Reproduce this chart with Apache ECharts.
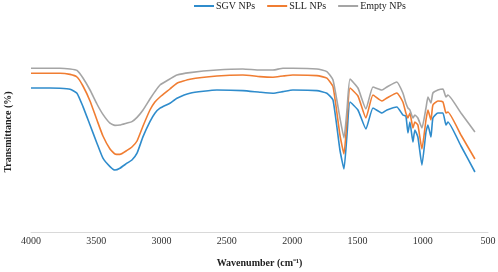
<!DOCTYPE html>
<html>
<head>
<meta charset="utf-8">
<script src="https://cdn.jsdelivr.net/npm/echarts@6/dist/echarts.min.js"></script>
<style>
  html, body { margin: 0; padding: 0; background: #fff; }
  #chart { width: 498px; height: 272px; }
</style>
</head>
<body>
<div id="chart"></div>
<script>
// wavenumber points (cm-1), shared by all three spectra
const wavenumbers = [4000, 3855, 3778, 3701, 3648, 3602, 3548, 3495, 3449, 3395, 3357, 3319, 3265, 3227, 3188, 3142, 3089, 3051, 3012, 2936, 2882, 2783, 2576, 2377, 2247, 2147, 2070, 1994, 1810, 1734, 1687,
  1634, 1603, 1580, 1557, 1496, 1435, 1381, 1312, 1274, 1198, 1152, 1129, 1113, 1098, 1075, 1060, 1037, 1006, 975, 960, 937, 922, 884, 845, 822, 807, 707, 600];

const sgv = [72, 72, 71.9, 71.4, 69.4, 62.7, 53.5, 44.4, 36.9, 32.7, 31, 31.9, 34.4, 36, 39.4, 47.7, 55.2, 59.4, 61.9, 64.4, 66.9, 69.4, 71, 70.7, 69.9, 69.4, 70.2, 71, 70.7, 69.4, 66,
  41, 31.5, 48.5, 65, 61, 51.5, 62, 59.5, 61, 62.5, 58.5, 58, 49.5, 55, 45, 51, 47.5, 33.5, 50, 53.5, 47.5, 57, 59.5, 59.5, 53.5, 55, 43, 30];
const sll = [79.4, 79.4, 79.4, 78.8, 77.5, 73, 65.5, 56, 48, 41.5, 39, 38.8, 40.8, 42.5, 45.5, 53, 61, 65, 67.5, 71.5, 74.4, 76.4, 78, 78.5, 77.7, 77.4, 78, 78.5, 78.2, 76.9, 72.7,
  48.5, 39, 56, 72, 68, 57, 68.5, 65.5, 67, 69.5, 65, 59.5, 57, 59.5, 52, 55, 53.5, 41.5, 56, 61, 56, 63.5, 65.5, 65, 59.5, 60, 48.5, 36.5];
const empty = [81.9, 81.9, 81.9, 81.5, 80.8, 77, 71, 64, 58.8, 54.4, 53.3, 53.5, 54.5, 55.2, 57.3, 61, 66.5, 70.2, 73.5, 76.5, 78.5, 79.7, 81, 81.5, 81, 81, 81.9, 81.9, 81.5, 80.2, 76,
  57, 47, 61, 76.5, 72, 61.5, 72.5, 71, 72.5, 75, 69.5, 64.5, 62, 61, 57, 58.5, 57, 52, 62, 67.5, 64.5, 69.5, 71, 71.5, 67.5, 68.5, 59.5, 50];

const names = ['SGV NPs', 'SLL NPs', 'Empty NPs'];
const colors = ['#2f8ccc', '#f07d32', '#a5a5a5'];

function pairs(vals) {
  return wavenumbers.map((w, i) => [w, vals[i]]);
}

const serif = '"Liberation Serif", "Times New Roman", serif';
const chart = echarts.init(document.getElementById('chart'));

chart.setOption({
  animation: false,
  color: colors,
  legend: {
    top: -4,
    left: 189,
    itemWidth: 20,
    itemHeight: 2,
    itemGap: 12,
    icon: 'rect',
    textStyle: { fontFamily: serif, fontSize: 10, color: '#222', padding: [0, 0, 0, -3] },
    data: names
  },
  grid: { left: 31, right: 10, top: 32, bottom: 40, outerBoundsMode: 'none' },
  xAxis: {
    type: 'value',
    inverse: true,
    min: 500,
    max: 4000,
    interval: 500,
    name: 'Wavenumber (cm⁻¹)',
    nameLocation: 'middle',
    nameGap: 26,
    nameTextStyle: { fontFamily: serif, fontSize: 10, fontWeight: 'bold', color: '#222' },
    axisLine: { lineStyle: { color: '#d9d9d9' } },
    axisTick: { show: false },
    axisLabel: { fontFamily: serif, fontSize: 10, color: '#333', margin: 4, formatter: v => String(v) },
    splitLine: { show: false }
  },
  yAxis: {
    type: 'value',
    min: 0,
    max: 100,
    name: 'Transmittance (%)',
    nameLocation: 'middle',
    nameGap: 18,
    nameTextStyle: { fontFamily: serif, fontSize: 10, fontWeight: 'bold', color: '#222' },
    axisLine: { show: false },
    axisTick: { show: false },
    axisLabel: { show: false },
    splitLine: { show: false }
  },
  series: [
    { name: names[0], type: 'line', data: pairs(sgv), symbol: 'none', smooth: 0.15, lineStyle: { width: 1.6 } },
    { name: names[1], type: 'line', data: pairs(sll), symbol: 'none', smooth: 0.15, lineStyle: { width: 1.6 } },
    { name: names[2], type: 'line', data: pairs(empty), symbol: 'none', smooth: 0.15, lineStyle: { width: 1.6 } }
  ]
});
</script>
</body>
</html>
